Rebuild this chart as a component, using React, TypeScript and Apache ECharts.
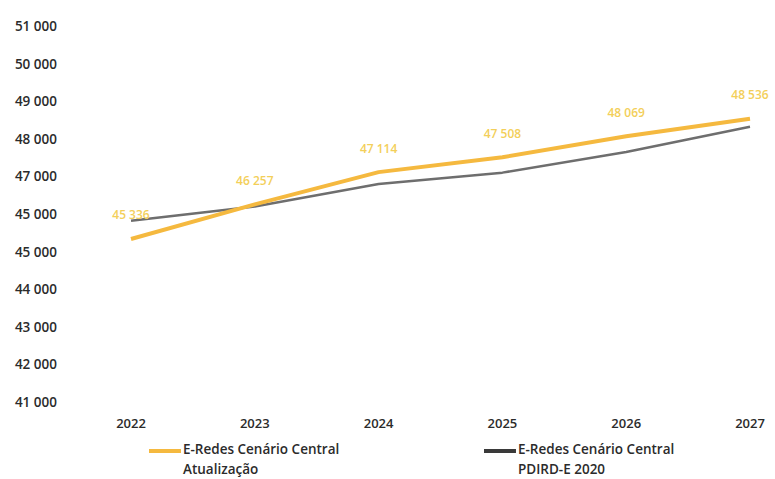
import React, { useEffect, useRef } from "react";
import * as echarts from "echarts";

const years = ["2022", "2023", "2024", "2025", "2026", "2027"];
const atualizacao = [45336, 46257, 47114, 47508, 48069, 48536];
const pdird2020 = [45820, 46200, 46800, 47100, 47650, 48320];
const yTickLabels = ["41 000", "42 000", "43 000", "44 000", "45 000", "45 000", "47 000", "48 000", "49 000", "50 000", "51 000"];
const seriesNames = ["E-Redes Cenário Central\nAtualização", "E-Redes Cenário Central\nPDIRD-E 2020"];

const fmt = (v: number) => {
  const s = String(Math.round(v));
  return s.slice(0, s.length - 3) + " " + s.slice(-3);
};

const legendIcon = "path://M0,0H32V4H0Z M0,20H0.01V20.01H0Z";

export default function App() {
  const ref = useRef<HTMLDivElement>(null);
  useEffect(() => {
    const chart = echarts.init(ref.current!, undefined, { renderer: "svg" });
    const font = "'Open Sans', 'Noto Sans', sans-serif";
    const legendText = { color: "#2b2b2b", fontSize: 13.5, lineHeight: 20, fontFamily: font, fontWeight: 600, padding: [0, 0, 0, -3] };
    chart.setOption({
      animation: false,
      backgroundColor: "#ffffff",
      grid: { left: 131, right: 25, top: 26, bottom: 77 },
      xAxis: {
        type: "category",
        data: years,
        boundaryGap: false,
        axisLine: { show: false },
        axisTick: { show: false },
        axisLabel: { margin: 14, color: "#2b2b2b", fontSize: 13, fontWeight: 600, fontFamily: font },
      },
      yAxis: {
        type: "value",
        min: 41000,
        max: 51000,
        interval: 1000,
        splitLine: { show: false },
        axisLine: { show: false },
        axisTick: { show: false },
        axisLabel: {
          margin: 74,
          color: "#2b2b2b",
          fontSize: 13.5,
          fontWeight: 600,
          fontFamily: font,
          formatter: (v: number) => yTickLabels[Math.round((v - 41000) / 1000)] ?? "",
        },
      },
      legend: [
        {
          left: 149,
          top: 439,
          padding: 0,
          icon: legendIcon,
          itemWidth: 32,
          itemHeight: 20,
          data: [{ name: seriesNames[0], itemStyle: { color: "#f5b93f" } }],
          textStyle: legendText,
        },
        {
          left: 484,
          top: 439,
          padding: 0,
          icon: legendIcon,
          itemWidth: 32,
          itemHeight: 20,
          data: [{ name: seriesNames[1], itemStyle: { color: "#3a3a3a" } }],
          textStyle: legendText,
        },
      ],
      series: [
        {
          name: seriesNames[1],
          type: "line",
          data: pdird2020,
          symbol: "none",
          lineStyle: { color: "#6e6e6e", width: 2.5 },
          itemStyle: { color: "#6e6e6e" },
          z: 2,
        },
        {
          name: seriesNames[0],
          type: "line",
          data: atualizacao,
          symbol: "circle",
          symbolSize: 0,
          showSymbol: true,
          lineStyle: { color: "#f5b93f", width: 4 },
          itemStyle: { color: "#f5b93f" },
          z: 3,
          label: {
            show: true,
            position: "top",
            distance: 18,
            color: "#f3cf5a",
            fontSize: 12,
            fontWeight: 600,
            fontFamily: font,
            formatter: (p: any) => fmt(p.value),
          },
        },
      ],
    });
    return () => chart.dispose();
  }, []);
  return <div ref={ref} style={{ width: 775, height: 479, position: "absolute", left: 0, top: 0 }} />;
}
